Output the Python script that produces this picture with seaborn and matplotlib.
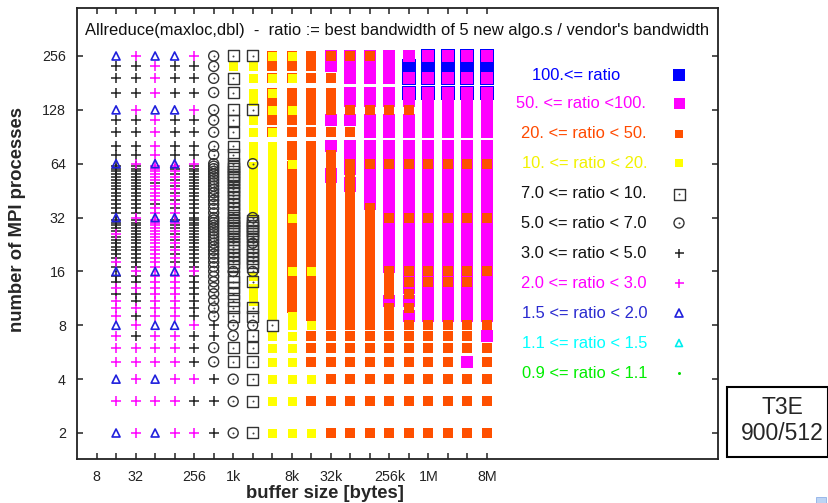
import matplotlib
matplotlib.use("Agg")
import matplotlib.pyplot as plt
import seaborn as sns
import pandas as pd
from matplotlib.patches import Rectangle

# ---------------- data ----------------
buffer_bytes = [16, 32, 64, 128, 256, 512, 1024, 2048, 4096, 8192, 16384,
                32768, 65536, 131072, 262144, 524288, 1048576, 2097152,
                4194304, 8388608]

processes = [2, 3, 4, 5, 6, 7, 8,
             9, 10, 11, 12, 13, 14, 15, 16,
             17, 18, 19, 20, 21, 22, 23, 24, 25, 26, 27, 28, 29, 30, 31, 32,
             34, 36, 38, 40, 42, 44, 46, 48, 50, 52, 54, 56, 58, 60, 62, 64,
             72, 80, 96, 112, 128,
             144, 160, 192, 224, 256]

# ratio class per (buffer size, process count); one token per process count,
# a two-letter token means two markers at the same point, "-" means no measurement
ratio_class = [
    # 16
    "T P T P P P T | P P P K P K K T | K P K K K K K K K P K K K K K T | K K K K K K K K K K K K K K K T | K K K K T | - K K K T",
    # 32
    "P P P P P K P | K P K K P K K P | K K K K K K K K K K K K K K K P | K K K K K K K K K K K K K K K P | K K K K P | - K K K P",
    # 64
    "T P T P P P T | P P P P P P P T | P P P P P P P P P P P P P P P T | P P K P P P P P K P P P P P P T | P P P P T | - P P P T",
    # 128
    "P P P P P P T | P P P P P P P T | P K P K P K P K P K P K K P K T | P K P K P K P K P K P K P K P T | K K K K T | - K K K T",
    # 256
    "P K P K K K P | K K K K K K K P | K K K K K K K K K K K K K K K K | K K K K K K K K K K K K K K K P | K K K K P | - K K K P",
    # 512
    "K K K C C K K | C C C C C C C C | C C C C C C C C C C C C C C C C | C C C C C C C C C C C C C C C C | C C C C C | - C C C C",
    # 1k
    "C C C S S C C | S S S S S S S C | S S S S S S S S S S S S S S S S | S S S S S S S S S S S S S S S S | S S S S S | - S S Y S",
    # 2k
    "S S S S S S C | S S Y Y Y S Y C | S S S S S S C S S S S S S S S C | Y Y Y Y Y Y Y Y Y Y Y Y Y Y Y C | Y Y Y Y S | Y Y Y Y S",
    # 4k
    "Y Y Y Y Y Y S | Y Y Y Y Y Y Y Y | Y Y Y Y Y Y Y Y Y Y Y Y Y Y Y Y | Y Y Y Y Y Y Y Y Y Y Y Y Y Y Y Y | Y Y OY O OY | O OY OY O OY",
    # 8k
    "Y Y Y Y Y Y Y | Y O O O O O O Y | O O O O O O O O O O O O O O O Y | O O O O O O O O O O O O O O O Y | O O O O OY | O O OY O OY",
    # 16k
    "Y O Y O O O Y | O O O O O O O Y | O O O O O O O O O O O O O O O O | O O O O O O O O O O O O O O O O | O O O O O | O O O O O",
    # 32k
    "O O O O O O O | O O O O O O O O | O O O O O O O O O O O O O O O O | O O O O O O O O O O M M O O O O | O M O M O | O O O M MO",
    # 64k
    "O O O O O O O | O O O O O O O O | O O O O O O O O O O O O O O O O | O O O O O O O M M O O O O M M O | M M O M O | M M M M MO",
    # 128k
    "O O O O O O O | O O O O O O O O | O O O O O O O O O O O O O O O O | O O M M M M M M M M M M M M M O | M M M M O | M M M M MO",
    # 256k
    "O O O O O O O | O O M O O O O O | M M M M M M M M M M M M M M M O | M M M M M M M M M M M M M M M O | M M M M O | M M M M M",
    # 512k
    "O O O O O O O | M O M O M O M O | M M M M M M M M M M M M M M M O | M M M M M M M M M M M M M M M O | M M M M O | M BM BM B M",
    # 1M
    "O O O O O O O | M M M M M O M O | M M M M M M M M M M M M M M M O | M M M M M M M M M M M M M M M O | M M M M M | M BM BM B BM",
    # 2M
    "O O O O O O O | M M M M M O M O | M M M M M M M M M M M M M M M O | M M M M M M M M M M M M M M M O | M M M M M | M BM BM B BM",
    # 4M
    "O O O M O O O | M M M M M O M O | M M M M M M M M M M M M M M M O | M M M M M M M M M M M M M M M O | M M M M M | M BM BM B BM",
    # 8M
    "O O O O O M O | M M M M M M M O | M M M M M M M M M M M M M M M O | M M M M M M M M M M M M M M M O | M M M M M | M BM BM B BM",
]

class_codes = ["B", "M", "O", "Y", "S", "C", "K", "P", "T", "A", "G"]
class_labels = ["100.<= ratio", "50. <= ratio <100.", "20. <= ratio < 50.",
                "10. <= ratio < 20.", "7.0 <= ratio < 10.", "5.0 <= ratio < 7.0",
                "3.0 <= ratio < 5.0", "2.0 <= ratio < 3.0", "1.5 <= ratio < 2.0",
                "1.1 <= ratio < 1.5", "0.9 <= ratio < 1.1"]

xtick_pos = [8, 32, 256, 1024, 8192, 32768, 262144, 1048576, 8388608]
xtick_lab = ["8", "32", "256", "1k", "8k", "32k", "256k", "1M", "8M"]
ytick_pos = [2, 4, 8, 16, 32, 64, 128, 256]
ytick_lab = ["2", "4", "8", "16", "32", "64", "128", "256"]

# ---------------- styles ----------------
PX = 72.0 / 100.0  # points per pixel at dpi 100
def s_px(px):
    return (px * PX) ** 2

style = {
    #      color      marker filled size_plot size_legend lw   text color
    "B": ("#0000ff", "s", True, 14, 12, 0, "#0000ff"),
    "M": ("#ff00ff", "s", True, 11.5, 11, 0, "#ff00ff"),
    "O": ("#ff5000", "s", True, 10, 8.5, 0, "#ff4a00"),
    "Y": ("#ffff00", "s", True, 9, 7.5, 0, "#f2f200"),
    "S": ("#333333", "s", False, 11, 11, 1.0, "#111111"),
    "C": ("#333333", "o", False, 10, 10, 1.0, "#111111"),
    "K": ("#222222", "+", None, 10, 9, 1.1, "#111111"),
    "P": ("#ff00ff", "+", None, 10, 9, 1.1, "#ff00ff"),
    "T": ("#2020dd", "^", False, 8, 8, 1.2, "#2a2ad0"),
    "A": ("#00eeee", "^", False, 7, 7, 1.2, "#00ffff"),
    "G": ("#00dd00", "o", True, 3, 3, 0, "#00ee00"),
}

# ---------------- build table ----------------
recs = []
for b, col in zip(buffer_bytes, ratio_class):
    toks = col.replace("|", " ").split()
    assert len(toks) == len(processes), (b, len(toks))
    for p, tok in zip(processes, toks):
        for ch in tok:
            if ch != "-":
                recs.append((b, p, ch))
df = pd.DataFrame(recs, columns=["bytes", "procs", "cls"])

# ---------------- figure ----------------
sns.set_style("ticks")
plt.rcParams["font.family"] = ["Liberation Sans", "DejaVu Sans"]

W, H = 829, 503
fig = plt.figure(figsize=(W / 100, H / 100), dpi=100)
ax = fig.add_axes([77 / W, 1 - 459 / H, 641 / W, 451 / H])
ax.set_xscale("log", base=2)
ax.set_yscale("log", base=2)
ax.set_xlim(2 ** 2.0, 2 ** 34.83)
ax.set_ylim(2 ** 0.517, 2 ** 8.891)

for c in class_codes:
    sub = df[df["cls"] == c]
    if sub.empty:
        continue
    color, mk, filled, sz, _, lw, _ = style[c]
    kw = dict(data=sub, x="bytes", y="procs", ax=ax, marker=mk, s=s_px(sz),
              legend=False)
    if filled is True:
        sns.scatterplot(color=color, edgecolor=color, linewidth=0, **kw)
    elif filled is False:
        sns.scatterplot(color=color, facecolor="none", edgecolor=color,
                        linewidth=lw, **kw)
    else:
        sns.scatterplot(color=color, linewidth=lw, **kw)
    if c in ("S", "C"):
        sns.scatterplot(data=sub, x="bytes", y="procs", ax=ax, marker="o",
                        s=s_px(2), color="#444444", edgecolor="#444444",
                        linewidth=0, legend=False)

# axes styling
ax.set_xticks([2 ** k for k in range(3, 24)])
ax.set_xticklabels([xtick_lab[xtick_pos.index(2 ** k)] if 2 ** k in xtick_pos else ""
                    for k in range(3, 24)])
ax.set_yticks(ytick_pos)
ax.set_yticklabels(ytick_lab)
ax.minorticks_off()
ax.tick_params(direction="in", top=True, right=True, length=4, width=1.1,
               labelsize=10.3, pad=8, colors="#222222", labelcolor="#222222")
for sp in ax.spines.values():
    sp.set_linewidth(1.3)
    sp.set_color("#222222")
ax.set_xlabel("")
ax.set_ylabel("")

# title inside the frame
ax.text(0.5, (459 - 30) / 451,
        "Allreduce(maxloc,dbl)  -  ratio := best bandwidth of 5 new algo.s / vendor's bandwidth",
        transform=ax.transAxes, ha="center", va="center", fontsize=11.9, color="#111111")

# legend (key) inside the frame
key_y = [75, 103, 134, 163, 194, 223, 253, 283, 313, 343, 373]
key_x = [532, 516, 521, 522, 521, 521, 521, 521, 522, 522, 522]
for c, lab, yy, xx in zip(class_codes, class_labels, key_y, key_x):
    color, mk, filled, _, szl, lw, tcol = style[c]
    ax.text((xx - 77) / 641, (459 - yy) / 451, lab, transform=ax.transAxes,
            ha="left", va="center", fontsize=11.9, color=tcol)
    mx, my = (679 - 77) / 641, (459 - yy) / 451
    if filled is True:
        ax.scatter([mx], [my], transform=ax.transAxes, marker=mk, s=s_px(szl),
                   color=color, linewidths=0, clip_on=False)
    elif filled is False:
        ax.scatter([mx], [my], transform=ax.transAxes, marker=mk, s=s_px(szl),
                   facecolor="none", edgecolor=color, linewidths=lw, clip_on=False)
    else:
        ax.scatter([mx], [my], transform=ax.transAxes, marker=mk, s=s_px(szl),
                   color=color, linewidths=lw, clip_on=False)
    if c in ("S", "C"):
        ax.scatter([mx], [my], transform=ax.transAxes, marker="o", s=s_px(2),
                   color="#444444", linewidths=0, clip_on=False)

# axis labels
fig.text(18 / W, 1 - 220 / H, "number of MPI processes", rotation=90,
         ha="center", va="center", fontsize=13.3, fontweight="bold")
fig.text(325 / W, 1 - 493 / H, "buffer size [bytes]", ha="center", va="center",
         fontsize=13.3, fontweight="bold")

# machine box
fig.patches.append(Rectangle((727 / W, 1 - 457 / H), 101 / W, 70 / H,
                             transform=fig.transFigure, fill=False,
                             edgecolor="black", linewidth=1.5))
fig.text(782 / W, 1 - 408 / H, "T3E", ha="center", va="center", fontsize=16.5)
fig.text(782 / W, 1 - 434 / H, "900/512", ha="center", va="center", fontsize=16.5)

# small light-blue mark at the lower right corner
fig.patches.append(Rectangle((816 / W, 0.0), 10 / W, 6 / H,
                             transform=fig.transFigure, facecolor="#bcd4f4",
                             edgecolor="#8fb0e8", linewidth=0.6))

fig.savefig("out.png", dpi=100)
